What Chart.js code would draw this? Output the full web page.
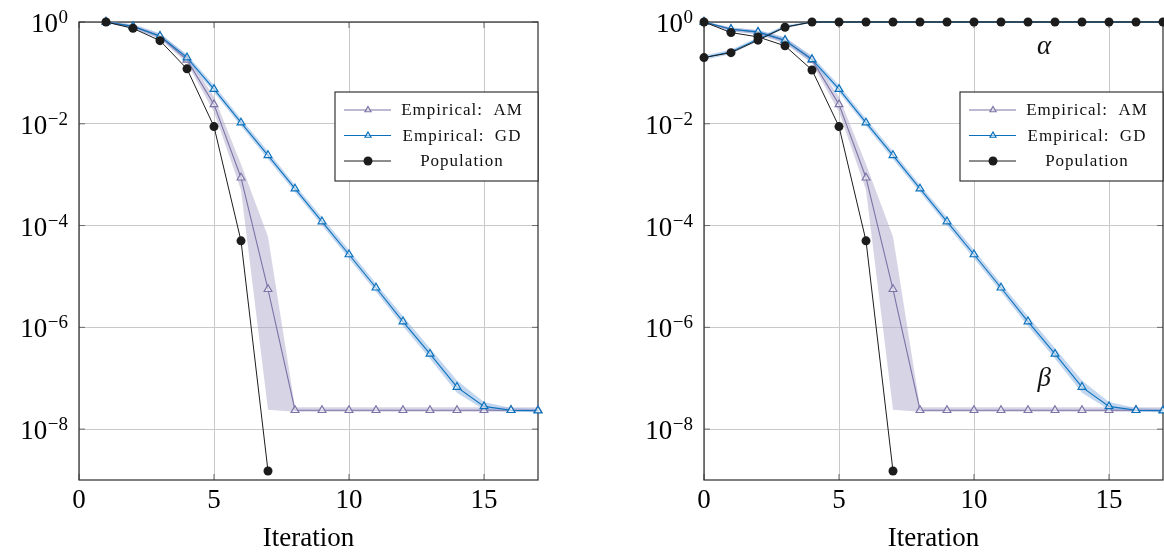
<!DOCTYPE html>
<html>
<head>
<meta charset="utf-8">
<script src="https://cdn.jsdelivr.net/npm/chart.js@4.4.1/dist/chart.umd.min.js"></script>
<style>
  html, body { margin: 0; padding: 0; background: #fff; overflow: hidden; width: 1164px; height: 552px; }
  canvas { position: absolute; top: 0; }
  #left { left: 0; }
  #right { left: 625px; }
</style>
</head>
<body>
<canvas id="left" width="560" height="552"></canvas>
<canvas id="right" width="560" height="552"></canvas>
<script>
// iterations
const iterLeft = [1, 2, 3, 4, 5, 6, 7, 8, 9, 10, 11, 12, 13, 14, 15, 16, 17];
const iterRight = [0, 1, 2, 3, 4, 5, 6, 7, 8, 9, 10, 11, 12, 13, 14, 15, 16, 17];

// left panel
const popLeft = [1, 0.75, 0.43, 0.12, 0.0088, 5e-5, 1.5e-9];
const gdLeft = [1, 0.82, 0.53, 0.2, 0.048, 0.0105, 0.0024, 5.3e-4, 1.2e-4, 2.7e-5, 6e-6, 1.3e-6, 3e-7, 6.7e-8, 2.8e-8, 2.35e-8, 2.3e-8];
const gdLeftLo = [0.97, 0.74, 0.47, 0.175, 0.041, 0.009, 0.002, 4.5e-4, 1e-4, 2.25e-5, 5e-6, 1.05e-6, 2.4e-7, 5.2e-8, 2.4e-8, 2.2e-8, 2.15e-8];
const gdLeftHi = [1.03, 0.9, 0.6, 0.23, 0.057, 0.0125, 0.0029, 6.3e-4, 1.45e-4, 3.3e-5, 7.3e-6, 1.65e-6, 3.9e-7, 9e-8, 3.4e-8, 2.6e-8, 2.5e-8];
const amLeft = [1, 0.82, 0.52, 0.18, 0.024, 8.7e-4, 5.6e-6, 2.35e-8, 2.35e-8, 2.35e-8, 2.35e-8, 2.35e-8, 2.35e-8, 2.35e-8, 2.35e-8, 2.35e-8, 2.35e-8];
const amLeftLo = [0.97, 0.76, 0.47, 0.155, 0.017, 5e-4, 2.4e-8, 2.2e-8, 2.2e-8, 2.2e-8, 2.2e-8, 2.2e-8, 2.2e-8, 2.2e-8, 2.2e-8, 2.2e-8, 2.2e-8];
const amLeftHi = [1.03, 0.88, 0.58, 0.22, 0.034, 1.6e-3, 6e-5, 2.7e-8, 2.7e-8, 2.7e-8, 2.7e-8, 2.7e-8, 2.7e-8, 2.7e-8, 2.7e-8, 2.7e-8, 2.7e-8];

// right panel (beta curves + alpha curves)
const popBetaRight = [1, 0.62, 0.51, 0.34, 0.114, 0.0088, 5e-5, 1.5e-9];
const popAlphaRight = [0.2, 0.25, 0.44, 0.79, 1, 1, 1, 1, 1, 1, 1, 1, 1, 1, 1, 1, 1, 1];
const gdBetaRight = [1, 0.72, 0.64, 0.44, 0.185, 0.048, 0.0105, 0.0024, 5.3e-4, 1.2e-4, 2.7e-5, 6e-6, 1.3e-6, 3e-7, 6.7e-8, 2.8e-8, 2.35e-8, 2.3e-8];
const gdBetaRightLo = [0.97, 0.66, 0.58, 0.39, 0.16, 0.041, 0.009, 0.002, 4.5e-4, 1e-4, 2.25e-5, 5e-6, 1.05e-6, 2.4e-7, 5.2e-8, 2.4e-8, 2.2e-8, 2.15e-8];
const gdBetaRightHi = [1.03, 0.78, 0.7, 0.5, 0.215, 0.057, 0.0125, 0.0029, 6.3e-4, 1.45e-4, 3.3e-5, 7.3e-6, 1.65e-6, 3.9e-7, 9e-8, 3.4e-8, 2.6e-8, 2.5e-8];
const amBetaRight = [1, 0.72, 0.63, 0.43, 0.18, 0.024, 8.7e-4, 5.6e-6, 2.35e-8, 2.35e-8, 2.35e-8, 2.35e-8, 2.35e-8, 2.35e-8, 2.35e-8, 2.35e-8, 2.35e-8, 2.35e-8];
const amBetaRightLo = [0.97, 0.66, 0.57, 0.38, 0.155, 0.017, 5e-4, 2.4e-8, 2.2e-8, 2.2e-8, 2.2e-8, 2.2e-8, 2.2e-8, 2.2e-8, 2.2e-8, 2.2e-8, 2.2e-8, 2.2e-8];
const amBetaRightHi = [1.03, 0.78, 0.69, 0.49, 0.21, 0.034, 1.6e-3, 6e-5, 2.7e-8, 2.7e-8, 2.7e-8, 2.7e-8, 2.7e-8, 2.7e-8, 2.7e-8, 2.7e-8, 2.7e-8, 2.7e-8];
const empAlphaRight = [0.2, 0.26, 0.46, 0.8, 1, 1, 1, 1, 1, 1, 1, 1, 1, 1, 1, 1, 1, 1];
const empAlphaRightLo = [0.18, 0.235, 0.42, 0.75, 0.97, 0.97, 0.97, 0.97, 0.97, 0.97, 0.97, 0.97, 0.97, 0.97, 0.97, 0.97, 0.97, 0.97];
const empAlphaRightHi = [0.22, 0.285, 0.5, 0.86, 1.03, 1.03, 1.03, 1.03, 1.03, 1.03, 1.03, 1.03, 1.03, 1.03, 1.03, 1.03, 1.03, 1.03];

// axes
const xTickValues = [0, 5, 10, 15];
const yTickValues = [1, 1e-2, 1e-4, 1e-6, 1e-8];
const yTickExponents = ['0', '\u22122', '\u22124', '\u22126', '\u22128'];
const legendLabels = ['Empirical:  AM', 'Empirical:  GD', 'Population'];
const annotations = [
  { text: '\u03b1', x: 12.6, y: 0.32 },
  { text: '\u03b2', x: 12.6, y: 9.7e-8 }
];

const SERIF = "'Liberation Serif', 'DejaVu Serif', serif";
const POP = '#1c1c1c';
const GD = '#0a72bd';
const AM = '#7c74a6';
const GD_BAND = 'rgba(120,165,220,0.45)';
const AM_BAND = 'rgba(175,170,205,0.5)';
const GRID = '#c9c9c9';

const pts = (xs, ys) => ys.map((y, i) => ({ x: xs[i], y: y }));

function lineSet(label, data, color, kind) {
  const tri = kind === 'tri';
  return {
    label: label, data: data, borderColor: color, borderWidth: tri ? 1.1 : 1,
    pointStyle: tri ? 'triangle' : 'circle',
    pointRadius: kind === 'none' ? 0 : (tri ? 4.5 : 4.5),
    pointBackgroundColor: tri ? 'rgba(255,255,255,0.55)' : color,
    pointBorderColor: color, pointBorderWidth: tri ? 1.2 : 0,
    fill: false, tension: 0, clip: false
  };
}
function bandSet(data, color, fill) {
  return { data: data, borderWidth: 0, pointRadius: 0, backgroundColor: color, fill: fill, tension: 0, clip: false };
}

const framePlugin = {
  id: 'frame',
  beforeDatasetsDraw(chart) {
    const { ctx, chartArea: a, scales } = chart;
    ctx.save();
    // inner tick marks
    ctx.strokeStyle = '#6a6a6a';
    ctx.lineWidth = 1;
    ctx.beginPath();
    xTickValues.forEach(v => {
      const x = scales.x.getPixelForValue(v);
      ctx.moveTo(x, a.bottom); ctx.lineTo(x, a.bottom - 6);
      ctx.moveTo(x, a.top); ctx.lineTo(x, a.top + 6);
    });
    yTickValues.forEach(v => {
      const y = scales.y.getPixelForValue(v);
      ctx.moveTo(a.left, y); ctx.lineTo(a.left + 6, y);
      ctx.moveTo(a.right, y); ctx.lineTo(a.right - 6, y);
    });
    ctx.stroke();
    ctx.strokeStyle = '#2a2a2a';
    ctx.lineWidth = 1.2;
    ctx.strokeRect(a.left, a.top, a.right - a.left, a.bottom - a.top);
    ctx.restore();
  }
};

const yLabelPlugin = {
  id: 'yLabels',
  afterDraw(chart) {
    const { ctx, chartArea: a } = chart;
    const s = chart.scales.y;
    ctx.save();
    ctx.fillStyle = '#000';
    ctx.textBaseline = 'alphabetic';
    yTickValues.forEach((v, i) => {
      const y = s.getPixelForValue(v);
      const xr = a.left - 11;
      ctx.font = '19px ' + SERIF;
      const ew = ctx.measureText(yTickExponents[i]).width;
      ctx.textAlign = 'left';
      ctx.fillText(yTickExponents[i], xr - ew, y + 1);
      ctx.font = '27px ' + SERIF;
      ctx.textAlign = 'right';
      ctx.fillText('10', xr - ew - 0.5, y + 10);
    });
    ctx.restore();
  }
};

const legendPlugin = {
  id: 'boxLegend',
  afterDraw(chart) {
    const { ctx, chartArea: a } = chart;
    const items = chart.data.datasets.filter(d => d.legendIndex !== undefined)
      .sort((p, q) => p.legendIndex - q.legendIndex);
    const w = 203, h = 89;
    const left = a.right - w, top = a.top + 70;
    ctx.save();
    ctx.fillStyle = '#fff';
    ctx.fillRect(left, top, w, h);
    ctx.strokeStyle = '#222';
    ctx.lineWidth = 1.1;
    ctx.strokeRect(left, top, w, h);
    items.forEach((d, i) => {
      const y = top + 18 + i * 25.5;
      ctx.strokeStyle = d.borderColor;
      ctx.lineWidth = 1;
      ctx.beginPath();
      ctx.moveTo(left + 9, y); ctx.lineTo(left + 56, y);
      ctx.stroke();
      ctx.fillStyle = d.pointBackgroundColor;
      ctx.strokeStyle = d.borderColor;
      ctx.lineWidth = d.pointBorderWidth || 1;
      Chart.helpers.drawPoint(ctx, {
        pointStyle: d.pointStyle, radius: d.pointStyle === 'triangle' ? 3.5 : 4.5,
        rotation: 0, borderWidth: d.pointBorderWidth
      }, left + 33, y);
      ctx.fillStyle = '#111';
      ctx.font = '17px ' + SERIF;
      ctx.letterSpacing = '1px';
      ctx.textAlign = 'center';
      ctx.textBaseline = 'middle';
      ctx.fillText(d.label, left + 127, y + 1);
    });
    ctx.restore();
  }
};

const annotationPlugin = {
  id: 'greek',
  afterDatasetsDraw(chart) {
    if (!chart.options.plugins.greek || !chart.options.plugins.greek.show) return;
    const { ctx, scales } = chart;
    ctx.save();
    ctx.fillStyle = '#111';
    ctx.font = 'italic 27px ' + SERIF;
    ctx.textAlign = 'center';
    ctx.textBaseline = 'middle';
    annotations.forEach(t => {
      ctx.fillText(t.text, scales.x.getPixelForValue(t.x), scales.y.getPixelForValue(t.y));
    });
    ctx.restore();
  }
};

function makeOptions(showGreek) {
  return {
    responsive: false,
    animation: false,
    devicePixelRatio: 1,
    layout: { padding: { top: 22, right: 22, left: 0, bottom: 0 } },
    plugins: { legend: { display: false }, tooltip: { enabled: false }, greek: { show: showGreek } },
    scales: {
      x: {
        type: 'linear', min: 0, max: 17,
        afterBuildTicks(s) { s.ticks = xTickValues.map(v => ({ value: v })); },
        ticks: { padding: 5, color: '#000', font: { family: SERIF, size: 27 } },
        grid: { color: GRID, lineWidth: 1, drawTicks: false },
        border: { display: false },
        title: { display: true, text: 'Iteration', color: '#000', padding: 0, font: { family: SERIF, size: 27, lineHeight: 1 } },
        afterFit(s) { s.height = 72; }
      },
      y: {
        type: 'logarithmic', min: 1e-9, max: 1,
        afterBuildTicks(s) { s.ticks = yTickValues.map(v => ({ value: v })); },
        ticks: { display: false },
        grid: { color: GRID, lineWidth: 1, drawTicks: false },
        border: { display: false },
        afterFit(s) { s.width = 79; }
      }
    }
  };
}

const plugins = [framePlugin, yLabelPlugin, annotationPlugin, legendPlugin];

const pop1 = lineSet(legendLabels[2], pts(iterLeft, popLeft), POP, 'dot'); pop1.legendIndex = 2;
const gd1 = lineSet(legendLabels[1], pts(iterLeft, gdLeft), GD, 'tri'); gd1.legendIndex = 1;
const am1 = lineSet(legendLabels[0], pts(iterLeft, amLeft), AM, 'tri'); am1.legendIndex = 0;

new Chart(document.getElementById('left'), {
  type: 'line',
  data: {
    datasets: [
      pop1, gd1, am1,
      bandSet(pts(iterLeft, gdLeftHi), GD_BAND, '+1'),
      bandSet(pts(iterLeft, gdLeftLo), GD_BAND, false),
      bandSet(pts(iterLeft, amLeftHi), AM_BAND, '+1'),
      bandSet(pts(iterLeft, amLeftLo), AM_BAND, false)
    ]
  },
  options: makeOptions(false),
  plugins: plugins
});

const pop2 = lineSet(legendLabels[2], pts(iterRight, popBetaRight), POP, 'dot'); pop2.legendIndex = 2;
const gd2 = lineSet(legendLabels[1], pts(iterRight, gdBetaRight), GD, 'tri'); gd2.legendIndex = 1;
const am2 = lineSet(legendLabels[0], pts(iterRight, amBetaRight), AM, 'tri'); am2.legendIndex = 0;

new Chart(document.getElementById('right'), {
  type: 'line',
  data: {
    datasets: [
      lineSet('alpha population', pts(iterRight, popAlphaRight), POP, 'dot'),
      pop2,
      lineSet('alpha GD', pts(iterRight, empAlphaRight), GD, 'none'),
      gd2, am2,
      bandSet(pts(iterRight, empAlphaRightHi), GD_BAND, '+1'),
      bandSet(pts(iterRight, empAlphaRightLo), GD_BAND, false),
      bandSet(pts(iterRight, gdBetaRightHi), GD_BAND, '+1'),
      bandSet(pts(iterRight, gdBetaRightLo), GD_BAND, false),
      bandSet(pts(iterRight, amBetaRightHi), AM_BAND, '+1'),
      bandSet(pts(iterRight, amBetaRightLo), AM_BAND, false)
    ]
  },
  options: makeOptions(true),
  plugins: plugins
});
</script>
</body>
</html>
